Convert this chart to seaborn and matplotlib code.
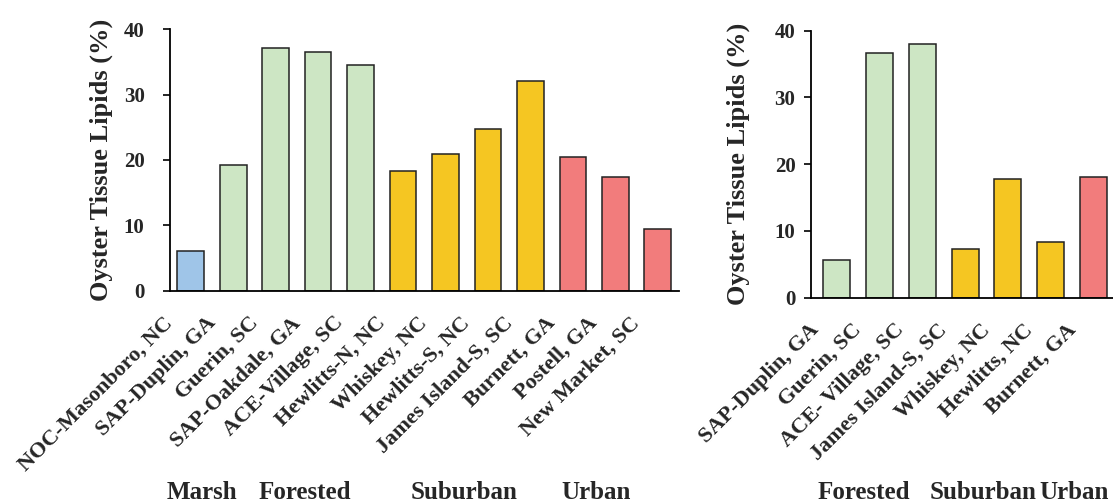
import matplotlib
matplotlib.use("Agg")
import matplotlib.pyplot as plt
import matplotlib.transforms as mtransforms
import pandas as pd
import seaborn as sns

# left panel
left_sites = ["NOC-Masonboro, NC", "SAP-Duplin, GA", "Guerin, SC", "SAP-Oakdale, GA",
              "ACE-Village, SC", "Hewlitts-N, NC", "Whiskey, NC", "Hewlitts-S, NC",
              "James Island-S, SC", "Burnett, GA", "Postell, GA", "New Market, SC"]
left_types = ["Marsh", "Forested", "Forested", "Forested", "Forested",
              "Suburban", "Suburban", "Suburban", "Suburban",
              "Urban", "Urban", "Urban"]
left_lipids = [6.1, 19.3, 37.1, 36.5, 34.5, 18.3, 20.9, 24.7, 32.1, 20.5, 17.4, 9.4]

# right panel
right_sites = ["SAP-Duplin, GA", "Guerin, SC", "ACE- Village, SC", "James Island-S, SC",
               "Whiskey, NC", "Hewlitts, NC", "Burnett, GA"]
right_types = ["Forested", "Forested", "Forested", "Suburban", "Suburban", "Suburban", "Urban"]
right_lipids = [5.6, 36.7, 38.0, 7.3, 17.8, 8.3, 18.1]

palette = {"Marsh": "#9fc5e8", "Forested": "#cde6c4", "Suburban": "#f5c622", "Urban": "#f27c7c"}

sns.set_style("ticks")
plt.rcParams['font.family'] = ['Liberation Serif', 'DejaVu Serif']
plt.rcParams['font.weight'] = 'bold'
plt.rcParams['axes.labelweight'] = 'bold'

fig = plt.figure(figsize=(11.13, 5.04), dpi=100)
ax1 = fig.add_axes([0.1523, 0.4232, 0.4578, 0.5187])
ax2 = fig.add_axes([0.7284, 0.4093, 0.2716, 0.5298])

df1 = pd.DataFrame({"site": left_sites, "type": left_types, "lipids": left_lipids})
df2 = pd.DataFrame({"site": right_sites, "type": right_types, "lipids": right_lipids})

for ax, df, xlim, ypad in [(ax1, df1, (-0.5, 11.5), 13), (ax2, df2, (-0.6, 6.45), 6)]:
    sns.barplot(data=df, x="site", y="lipids", hue="type", palette=palette,
                saturation=1, dodge=False, width=0.63, edgecolor="#222222",
                linewidth=1.1, legend=False, ax=ax)
    ax.set_ylim(0, 40)
    ax.set_xlim(*xlim)
    ax.set_yticks([0, 10, 20, 30, 40])
    ax.set_xlabel("")
    ax.set_ylabel("Oyster Tissue Lipids (%)", fontsize=19, fontweight="bold")
    ax.tick_params(axis="y", direction="out", length=5, width=1.2, color="black",
                   pad=ypad, labelsize=15)
    ax.tick_params(axis="x", length=0, pad=2)
    for sp in ["top", "right"]:
        ax.spines[sp].set_visible(False)
    for sp in ["left", "bottom"]:
        ax.spines[sp].set_linewidth(1.3)
        ax.spines[sp].set_color("black")
    ax.set_xticks(range(len(df)))
    ax.set_xticklabels(df["site"], rotation=45, ha="right", va="top",
                       rotation_mode="anchor", fontsize=16, fontweight="bold")
    offset = mtransforms.ScaledTranslation(-20 / 72, -14 / 72, fig.dpi_scale_trans)
    for lab in ax.get_xticklabels():
        lab.set_transform(lab.get_transform() + offset)

ax1.yaxis.set_label_coords(-0.111, 0.5)
ax2.yaxis.set_label_coords(-0.2008, 0.5)

# habitat group labels
groups = [("Marsh", 0.1815), ("Forested", 0.274), ("Suburban", 0.417), ("Urban", 0.5355),
          ("Forested", 0.776), ("Suburban", 0.883), ("Urban", 0.965)]
for name, gx in groups:
    fig.text(gx, 0.022, name, ha="center", va="center", fontsize=18, fontweight="bold")

fig.savefig("out.png", dpi=100)
